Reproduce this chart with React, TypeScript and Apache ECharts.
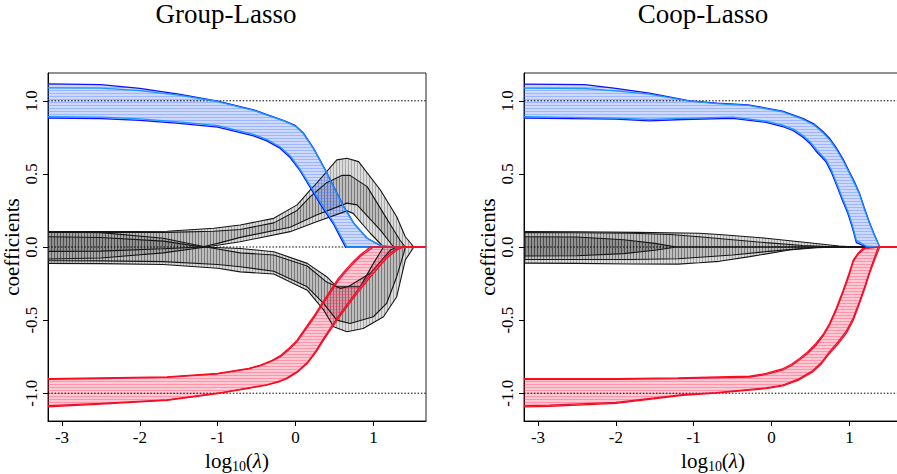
import React, { useEffect, useRef } from 'react';
import * as echarts from 'echarts';

// ---------- axes ----------
const X_MIN = -3.18;
const X_MAX = 1.676;
const Y_MIN = -1.19;
const Y_MAX = 1.19;
const xTicks = [-3, -2, -1, 0, 1];
const yTicks = [-1, -0.5, 0, 0.5, 1];
const refLevels = [1, 0, -1];
const panelTitles = ['Group-Lasso', 'Coop-Lasso'];

// ---------- Group-Lasso ----------
const glBlueTop = [[-3.18,1.115],[-2.5,1.11],[-2.0,1.085],[-1.5,1.045],[-1.0,0.998],[-0.54,0.938],[-0.15,0.865],[0,0.83],[0.1,0.78],[0.23,0.676],[0.36,0.55],[0.49,0.413],[0.62,0.276],[0.75,0.162],[0.92,0.06],[1.09,0.01],[1.2,0]];
const glBlueTop2 = [[-3.18,1.088],[-2.5,1.086],[-2.0,1.07],[-1.5,1.038],[-1.0,0.995],[-0.54,0.935],[-0.15,0.862],[0,0.826],[0.1,0.776],[0.23,0.672],[0.36,0.546],[0.49,0.41],[0.62,0.273],[0.75,0.16],[0.92,0.06],[1.09,0.012],[1.25,0]];
const glBlueBot = [[-3.18,0.882],[-2.5,0.878],[-2.0,0.866],[-1.5,0.846],[-1.0,0.82],[-0.54,0.76],[-0.37,0.726],[-0.2,0.676],[-0.07,0.612],[0.06,0.52],[0.19,0.405],[0.32,0.292],[0.49,0.155],[0.64,0]];
const glBlueBot2 = [[-3.18,0.892],[-2.5,0.888],[-2.0,0.876],[-1.5,0.856],[-1.0,0.83],[-0.54,0.77],[-0.37,0.736],[-0.2,0.686],[-0.07,0.624],[0.06,0.53],[0.19,0.418],[0.32,0.305],[0.49,0.166],[0.66,0]];

const glRedUp = [[-3.18,-0.9],[-2.5,-0.895],[-1.65,-0.888],[-1.0,-0.865],[-0.6,-0.83],[-0.45,-0.808],[-0.3,-0.775],[-0.2,-0.745],[-0.1,-0.7],[0.02,-0.637],[0.12,-0.56],[0.23,-0.477],[0.34,-0.385],[0.45,-0.295],[0.55,-0.215],[0.66,-0.146],[0.75,-0.095],[0.83,-0.055],[0.96,0]];
const glRedUp2 = [[-3.18,-0.905],[-2.5,-0.9],[-1.65,-0.892],[-1.0,-0.868],[-0.6,-0.834],[-0.45,-0.812],[-0.3,-0.78],[-0.2,-0.752],[-0.1,-0.71],[0.02,-0.648],[0.12,-0.572],[0.23,-0.49],[0.34,-0.4],[0.45,-0.31],[0.55,-0.23],[0.66,-0.16],[0.75,-0.108],[0.83,-0.065],[1.0,0]];
const glRedLow = [[-3.18,-1.094],[-2.5,-1.075],[-1.65,-1.048],[-1.0,-1.002],[-0.37,-0.945],[-0.2,-0.92],[-0.11,-0.9],[0.02,-0.858],[0.15,-0.797],[0.26,-0.72],[0.36,-0.637],[0.47,-0.55],[0.58,-0.466],[0.69,-0.388],[0.79,-0.317],[0.9,-0.245],[1.0,-0.18],[1.09,-0.125],[1.17,-0.077],[1.3,-0.02],[1.39,0]];
const glRedLow2 = [[-3.18,-1.085],[-2.5,-1.07],[-1.65,-1.045],[-1.0,-1.0],[-0.37,-0.942],[-0.2,-0.916],[-0.11,-0.895],[0.02,-0.852],[0.15,-0.79],[0.26,-0.71],[0.36,-0.625],[0.47,-0.535],[0.58,-0.45],[0.69,-0.372],[0.79,-0.3],[0.9,-0.227],[1.0,-0.16],[1.09,-0.105],[1.17,-0.06],[1.3,-0.01],[1.35,0]];

const glGrayU1 = [[-3.18,0.105],[-2.5,0.105],[-1.65,0.108],[-1.05,0.128],[-0.71,0.15],[-0.28,0.196],[0.02,0.288],[0.19,0.39],[0.27,0.436],[0.53,0.596],[0.66,0.607],[0.81,0.584],[1.09,0.39],[1.3,0.207],[1.41,0.07],[1.52,0]];
const glGrayU2 = [[-3.18,0.1],[-2.5,0.1],[-1.65,0.1],[-1.05,0.108],[-0.71,0.12],[-0.28,0.165],[0.02,0.25],[0.19,0.345],[0.4,0.44],[0.6,0.49],[0.7,0.49],[0.92,0.413],[1.13,0.23],[1.34,0.048],[1.41,0]];
const glGrayU3 = [[-3.18,-0.03],[-2.5,-0.028],[-1.7,-0.012],[-1.2,0.0],[-1.0,0.025],[-0.71,0.066],[-0.07,0.135],[0.27,0.219],[0.66,0.3],[0.79,0.288],[1.09,0.116],[1.26,0]];
const glGrayU4 = [[-3.18,-0.082],[-2.5,-0.075],[-1.7,-0.04],[-1.15,0.0],[-0.71,0.036],[-0.07,0.105],[0.27,0.173],[0.66,0.247],[0.74,0.23],[0.96,0.094],[1.13,0]];
const glGrayL1 = [[-3.18,0.07],[-2.5,0.065],[-1.7,0.04],[-1.2,0.0],[-0.71,-0.01],[-0.28,-0.032],[0.15,-0.112],[0.4,-0.203],[0.53,-0.272],[0.66,-0.272],[0.83,-0.272],[1.0,-0.112],[1.13,0]];
const glGrayL2 = [[-3.18,0.103],[-2.5,0.098],[-1.7,0.06],[-1.15,0.0],[-0.71,-0.04],[-0.28,-0.055],[0.15,-0.13],[0.4,-0.24],[0.58,-0.283],[0.68,-0.27],[0.96,-0.18],[1.22,-0.02],[1.3,0]];
const glGrayL3 = [[-3.18,-0.094],[-2.5,-0.095],[-1.7,-0.1],[-1.0,-0.12],[-0.71,-0.135],[-0.28,-0.166],[0.15,-0.272],[0.36,-0.386],[0.53,-0.5],[0.7,-0.523],[1.0,-0.477],[1.17,-0.386],[1.3,-0.203],[1.39,-0.043],[1.41,0]];
const glGrayL4 = [[-3.18,-0.112],[-2.5,-0.114],[-1.7,-0.12],[-1.0,-0.145],[-0.71,-0.17],[-0.28,-0.185],[0.15,-0.295],[0.36,-0.43],[0.49,-0.546],[0.66,-0.58],[0.87,-0.557],[1.13,-0.477],[1.3,-0.34],[1.41,-0.089],[1.52,0]];

// ---------- Coop-Lasso ----------
const cpBlueTop = [[-3.18,1.114],[-2.4,1.11],[-2.0,1.085],[-1.57,1.053],[-1.05,1.0],[-0.7,0.984],[-0.3,0.972],[0.14,0.93],[0.4,0.88],[0.55,0.84],[0.66,0.79],[0.75,0.74],[0.83,0.68],[0.92,0.6],[1.0,0.515],[1.07,0.44],[1.13,0.368],[1.19,0.27],[1.25,0.18],[1.32,0.085],[1.39,0]];
const cpBlueTop2 = [[-3.18,1.087],[-2.4,1.084],[-2.0,1.068],[-1.57,1.045],[-1.05,0.997],[-0.7,0.981],[-0.3,0.968],[0.14,0.925],[0.4,0.874],[0.55,0.833],[0.66,0.782],[0.75,0.731],[0.83,0.67],[0.92,0.59],[1.0,0.505],[1.07,0.43],[1.13,0.36],[1.19,0.262],[1.25,0.172],[1.32,0.08],[1.39,0]];
const cpBlueBot = [[-3.18,0.882],[-2.0,0.874],[-1.57,0.862],[-1.14,0.872],[-0.5,0.88],[-0.07,0.852],[0.14,0.824],[0.28,0.795],[0.4,0.752],[0.49,0.71],[0.57,0.657],[0.7,0.582],[0.77,0.51],[0.83,0.43],[0.91,0.32],[0.98,0.23],[1.04,0.13],[1.09,0.03],[1.22,0]];
const cpBlueBot2 = [[-3.18,0.892],[-2.0,0.882],[-1.57,0.872],[-1.14,0.88],[-0.5,0.888],[-0.07,0.86],[0.14,0.834],[0.28,0.806],[0.4,0.764],[0.49,0.722],[0.57,0.67],[0.7,0.596],[0.77,0.525],[0.83,0.445],[0.91,0.335],[0.98,0.245],[1.04,0.145],[1.09,0.045],[1.22,0.005],[1.39,0]];

const cpRedUp = [[-3.18,-0.9],[-2.0,-0.9],[-1.2,-0.895],[-0.28,-0.884],[-0.07,-0.865],[0.15,-0.831],[0.26,-0.8],[0.36,-0.762],[0.47,-0.715],[0.57,-0.66],[0.66,-0.6],[0.745,-0.523],[0.83,-0.42],[0.92,-0.295],[0.99,-0.19],[1.05,-0.089],[1.11,-0.043],[1.17,-0.01],[1.39,0]];
const cpRedUp2 = [[-3.18,-0.905],[-2.0,-0.905],[-1.2,-0.9],[-0.28,-0.89],[-0.07,-0.872],[0.15,-0.84],[0.26,-0.81],[0.36,-0.772],[0.47,-0.726],[0.57,-0.672],[0.66,-0.612],[0.745,-0.535],[0.83,-0.434],[0.92,-0.31],[0.99,-0.205],[1.05,-0.1],[1.11,-0.05],[1.2,-0.01],[1.39,0]];
const cpRedLow = [[-3.18,-1.094],[-2.85,-1.09],[-2.0,-1.07],[-1.14,-1.014],[-0.71,-1.0],[-0.07,-0.968],[0.145,-0.95],[0.35,-0.91],[0.53,-0.854],[0.64,-0.8],[0.745,-0.728],[0.85,-0.665],[0.96,-0.591],[1.05,-0.5],[1.13,-0.386],[1.2,-0.28],[1.26,-0.18],[1.33,-0.08],[1.39,0]];
const cpRedLow2 = [[-3.18,-1.085],[-2.85,-1.082],[-2.0,-1.063],[-1.14,-1.01],[-0.71,-0.996],[-0.07,-0.963],[0.145,-0.944],[0.35,-0.902],[0.53,-0.845],[0.64,-0.79],[0.745,-0.715],[0.85,-0.65],[0.96,-0.575],[1.05,-0.484],[1.13,-0.37],[1.2,-0.264],[1.26,-0.165],[1.32,-0.075],[1.37,0]];

const cpGray1 = [[-3.18,0.105],[-2.5,0.104],[-1.74,0.1],[-0.93,0.094],[-0.67,0.085],[-0.07,0.06],[0.36,0.036],[0.87,0.007],[1.09,0]];
const cpGray2 = [[-3.18,0.098],[-2.5,0.097],[-1.8,0.094],[-1.3,0.085],[-0.93,0.07],[-0.5,0.05],[-0.07,0.03],[0.4,0.01],[0.87,0]];
const cpGray3 = [[-3.18,0.07],[-2.5,0.068],[-1.9,0.05],[-1.5,0.025],[-1.22,0]];
const cpGray4 = [[-3.18,-0.062],[-2.5,-0.06],[-1.9,-0.045],[-1.5,-0.022],[-1.22,0]];
const cpGray5 = [[-3.18,-0.085],[-2.5,-0.086],[-1.8,-0.085],[-1.2,-0.08],[-0.5,-0.055],[0,-0.028],[0.5,-0.005],[0.8,0]];
const cpGray6 = [[-3.18,-0.11],[-2.5,-0.112],[-1.8,-0.116],[-1.2,-0.117],[-0.93,-0.108],[-0.67,-0.098],[-0.28,-0.066],[0.23,-0.02],[0.57,-0.005],[0.87,0]];

// ---------- styling ----------
const SERIF = '"Liberation Serif", "DejaVu Serif", serif';
const DARK_BLUE = '#1010ff';
const LIGHT_BLUE = '#1a98ff';
const RED = '#ff0a1a';
const RED2 = '#e0103c';
const BLACK_LINE = '#151515';

type Pt = number[];

function ext(pts: Pt[]): Pt[] {
  const last = pts[pts.length - 1];
  return last[0] < X_MAX ? [...pts, [X_MAX, 0]] : pts;
}

function makePattern(w: number, h: number, base: string, stripe: string, horizontal: boolean) {
  const c = document.createElement('canvas');
  c.width = w;
  c.height = h;
  const ctx = c.getContext('2d')!;
  ctx.fillStyle = base;
  ctx.fillRect(0, 0, w, h);
  ctx.fillStyle = stripe;
  if (horizontal) ctx.fillRect(0, 0, w, 1);
  else ctx.fillRect(0, 0, 1, h);
  return { type: 'pattern', image: c.toDataURL(), imageWidth: w, imageHeight: h, repeat: 'repeat' };
}

function bandSeries(upper: Pt[], lower: Pt[], fill: any, idx: number) {
  return {
    type: 'custom',
    coordinateSystem: 'cartesian2d',
    xAxisIndex: idx,
    yAxisIndex: idx,
    data: [[upper[0][0], upper[0][1]]],
    clip: true,
    silent: true,
    z: 1,
    renderItem: (_params: any, api: any) => {
      const pts = [
        ...ext(upper).map((p) => api.coord(p)),
        ...ext(lower).slice().reverse().map((p) => api.coord(p)),
      ];
      return { type: 'polygon', shape: { points: pts }, style: { fill, stroke: null } };
    },
  };
}

function lineSeries(pts: Pt[], color: string, width: number, idx: number, z = 3, type: any = 'solid', extend = true) {
  return {
    type: 'line',
    xAxisIndex: idx,
    yAxisIndex: idx,
    data: extend ? ext(pts) : pts,
    symbol: 'none',
    showSymbol: false,
    silent: true,
    clip: true,
    z,
    lineStyle: { color, width, type },
  };
}

export default function App() {
  const ref = useRef<HTMLDivElement>(null);

  useEffect(() => {
    if (!ref.current) return;
    const chart = echarts.init(ref.current, null, { renderer: 'svg' });

    const bluePat = makePattern(4, 3, 'rgba(75,120,255,0.28)', 'rgba(75,120,255,0.36)', true);
    const redPat = makePattern(4, 3, 'rgba(255,45,85,0.25)', 'rgba(255,45,85,0.34)', true);
    const grayPat = makePattern(3, 4, 'rgba(55,55,55,0.18)', 'rgba(55,55,55,0.3)', false);

    const panels = [
      {
        blue: [glBlueTop, glBlueTop2, glBlueBot2, glBlueBot],
        red: [glRedUp, glRedUp2, glRedLow2, glRedLow],
        grayBands: [[glGrayU1, glGrayU3], [glGrayU2, glGrayU4], [glGrayL1, glGrayL3], [glGrayL2, glGrayL4]],
        grayLines: [glGrayU1, glGrayU2, glGrayU3, glGrayU4, glGrayL1, glGrayL2, glGrayL3, glGrayL4],
      },
      {
        blue: [cpBlueTop, cpBlueTop2, cpBlueBot2, cpBlueBot],
        red: [cpRedUp, cpRedUp2, cpRedLow2, cpRedLow],
        grayBands: [[cpGray1, cpGray4], [cpGray2, cpGray4], [cpGray3, cpGray6], [cpGray3, cpGray5]],
        grayLines: [cpGray1, cpGray2, cpGray3, cpGray4, cpGray5, cpGray6],
      },
    ];

    const series: any[] = [];
    panels.forEach((p, i) => {
      p.grayBands.forEach(([u, l]) => series.push(bandSeries(u, l, grayPat, i)));
      series.push(bandSeries(p.blue[0], p.blue[3], bluePat, i));
      series.push(bandSeries(p.red[0], p.red[3], redPat, i));
      refLevels.forEach((v) =>
        series.push(lineSeries([[X_MIN, v], [X_MAX, v]], '#000', 1, i, 2, [1.5, 1.8], false))
      );
      p.grayLines.forEach((l) => series.push(lineSeries(l, BLACK_LINE, 1.1, i)));
      series.push(lineSeries(p.blue[0], DARK_BLUE, 1.3, i));
      series.push(lineSeries(p.blue[3], DARK_BLUE, 1.3, i));
      series.push(lineSeries(p.blue[1], LIGHT_BLUE, 1.3, i, 4));
      series.push(lineSeries(p.blue[2], LIGHT_BLUE, 1.3, i, 4));
      series.push(lineSeries(p.red[1], RED2, 1.2, i));
      series.push(lineSeries(p.red[2], RED2, 1.2, i));
      series.push(lineSeries(p.red[0], RED, 1.3, i, 4));
      series.push(lineSeries(p.red[3], RED, 1.3, i, 4));
    });

    const gridLefts = [48, 524];
    const titleCenters = [226, 703];

    const option: any = {
      animation: false,
      backgroundColor: '#fff',
      grid: gridLefts.map((left) => ({
        left,
        top: 73,
        width: 378,
        height: 348,
        outerBoundsMode: 'none',
        containLabel: false,
        show: true,
        borderColor: '#222',
        borderWidth: 1,
        backgroundColor: 'transparent',
      })),
      xAxis: gridLefts.map((_, i) => ({
        type: 'value',
        gridIndex: i,
        min: X_MIN,
        max: X_MAX,
        splitLine: { show: false },
        axisLine: { show: true, onZero: false, lineStyle: { color: '#000', width: 1 } },
        axisTick: { show: true, customValues: xTicks, length: 5, inside: false, lineStyle: { color: '#000' } },
        axisLabel: {
          customValues: xTicks,
          formatter: (v: number) => String(v),
          fontFamily: SERIF,
          fontSize: 17,
          color: '#000',
          margin: 8,
        },
        name: '{a|log}{b|10}{a|(}{c|λ}{a|)}',
        nameLocation: 'middle',
        nameGap: 19,
        nameTextStyle: {
          color: '#000',
          rich: {
            a: { fontFamily: SERIF, fontSize: 21, color: '#000', lineHeight: 28, verticalAlign: 'middle' },
            b: { fontFamily: SERIF, fontSize: 14, color: '#000', lineHeight: 14, verticalAlign: 'bottom', padding: [0, 0, 2, 0] },
            c: { fontFamily: SERIF, fontSize: 21, fontStyle: 'italic', color: '#000', lineHeight: 28, verticalAlign: 'middle' },
          },
        },
      })),
      yAxis: gridLefts.map((_, i) => ({
        type: 'value',
        gridIndex: i,
        min: Y_MIN,
        max: Y_MAX,
        splitLine: { show: false },
        axisLine: { show: true, onZero: false, lineStyle: { color: '#000', width: 1 } },
        axisTick: { show: true, customValues: yTicks, length: 5, inside: false, lineStyle: { color: '#000' } },
        axisLabel: {
          customValues: yTicks,
          formatter: (v: number) => v.toFixed(1),
          rotate: 90,
          fontFamily: SERIF,
          fontSize: 17,
          color: '#000',
          margin: 8,
        },
        name: 'coefficients',
        nameLocation: 'middle',
        nameRotate: 90,
        nameGap: 22,
        nameTextStyle: { fontFamily: SERIF, fontSize: 21, color: '#000' },
      })),
      graphic: panelTitles.map((t, i) => ({
        type: 'text',
        x: titleCenters[i],
        y: 14,
        silent: true,
        style: {
          text: t,
          font: `27px ${SERIF}`,
          fill: '#000',
          textAlign: 'center',
          textVerticalAlign: 'middle',
        },
      })),
      series,
    };

    chart.setOption(option);
    return () => chart.dispose();
  }, []);

  return (
    <div
      ref={ref}
      style={{ position: 'fixed', left: 0, top: 0, width: 897, height: 474, overflow: 'hidden', background: '#fff' }}
    />
  );
}
